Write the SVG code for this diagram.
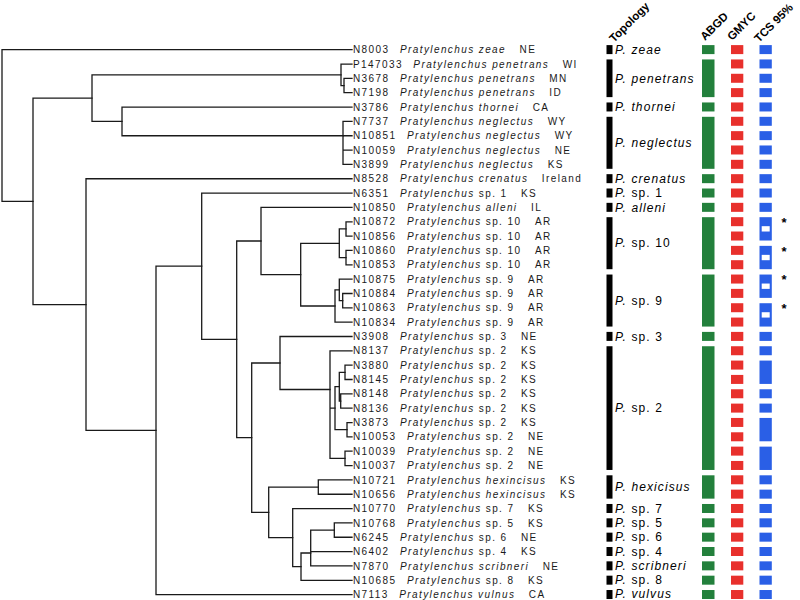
<svg xmlns="http://www.w3.org/2000/svg" width="800" height="600" viewBox="0 0 800 600">
<style>
.br{fill:none;stroke:#1a1a1a;stroke-width:1.3;stroke-linecap:square}
.lb{font-family:"Liberation Sans",Arial,sans-serif;font-size:10px;letter-spacing:1.4px;fill:#1a1a1a}
.it{font-style:italic}
.tp{font-family:"Liberation Sans",Arial,sans-serif;font-size:12px;letter-spacing:1.1px;fill:#000}
.hd{font-family:"Liberation Sans",Arial,sans-serif;font-size:11.5px;font-weight:bold;fill:#000}
.tb{fill:#000}
.g{fill:#23803c}.r{fill:#e8302c}.b{fill:#2a5fe6}.h{fill:#fff}
.ast{font-family:"Liberation Sans",Arial,sans-serif;font-size:13px;font-weight:bold;fill:#000}
</style>
<rect width="800" height="600" fill="#fff"/>
<g id="connectors" class="br">
<path d="M2,49.7V201.35M2,49.7H352M2,201.35H33"/>
<path d="M33,98.1V304.6M33,98.1H92M33,304.6H86"/>
<path d="M92,74.8V121.4M92,74.8H341M92,121.4H122"/>
<path d="M341,64.04V85.55M341,64.04H352M341,85.55H344"/>
<path d="M344,78.38V92.72M344,78.38H352M344,92.72H352"/>
<path d="M122,107.06V135.74M122,107.06H352M122,135.74H343"/>
<path d="M343,121.4V164.42M343,121.4H352M343,135.74H352M343,150.08H352M343,164.42H352"/>
<path d="M86,178.76V430.4M86,178.76H352M86,430.4H156"/>
<path d="M156,266.2V594.62M156,266.2H201.7M156,594.62H352"/>
<path d="M201.7,193.1V339.3M201.7,193.1H352M201.7,339.3H236.7"/>
<path d="M236.7,241V437.7M236.7,241H261M236.7,437.7H251.7"/>
<path d="M261,207.44V274.65M261,207.44H352M261,274.65H300.7"/>
<path d="M300.7,243.3V306M300.7,243.3H339.3M300.7,306H335"/>
<path d="M339.3,228.95V257.63M339.3,228.95H346M339.3,257.63H346"/>
<path d="M346,221.78V236.12M346,221.78H352M346,236.12H352"/>
<path d="M346,250.46V264.8M346,250.46H352M346,264.8H352"/>
<path d="M335,289.9V322.16M335,289.9H339.3M335,322.16H352"/>
<path d="M339.3,279.14V300.65M339.3,279.14H352M339.3,300.65H342.7"/>
<path d="M342.7,293.48V307.82M342.7,293.48H352M342.7,307.82H352"/>
<path d="M251.7,363V512.3M251.7,363H280M251.7,512.3H268.7"/>
<path d="M280,336.5V389.5M280,336.5H352M280,389.5H330"/>
<path d="M330,350.84V458.4M330,350.84H352M330,408.2H335M330,458.4H345"/>
<path d="M335,386.7V429.7M335,386.7H339.3M335,429.7H347"/>
<path d="M339.3,372.35V401.05M339.3,372.35H345M339.3,401.05H340.7"/>
<path d="M345,365.18V379.52M345,365.18H352M345,379.52H352"/>
<path d="M340.7,393.86V408.2M340.7,393.86H352M340.7,408.2H352"/>
<path d="M347,422.54V436.88M347,422.54H352M347,436.88H352"/>
<path d="M345,451.22V465.56M345,451.22H352M345,465.56H352"/>
<path d="M268.7,487.05V537.6M268.7,487.05H318.3M268.7,537.6H292.7"/>
<path d="M318.3,479.9V494.24M318.3,479.9H352M318.3,494.24H352"/>
<path d="M292.7,508.58V566.6M292.7,508.58H352M292.7,566.6H301"/>
<path d="M301,553V580.28M301,553H310.7M301,580.28H352"/>
<path d="M310.7,530.1V565.94M310.7,530.1H334.3M310.7,551.6H352M310.7,565.94H352"/>
<path d="M334.3,522.92V537.26M334.3,522.92H352M334.3,537.26H352"/>
</g>
<g id="taxa" class="lb">
<g id="t0"><text x="353" y="53.3">N8003<tspan class="it" dx="10.5">Pratylenchus zeae</tspan><tspan dx="13.5">NE</tspan></text></g>
<g id="t1"><text x="353" y="67.64">P147033<tspan class="it" dx="10.5">Pratylenchus penetrans</tspan><tspan dx="13.5">WI</tspan></text></g>
<g id="t2"><text x="353" y="81.98">N3678<tspan class="it" dx="10.5">Pratylenchus penetrans</tspan><tspan dx="13.5">MN</tspan></text></g>
<g id="t3"><text x="353" y="96.32">N7198<tspan class="it" dx="10.5">Pratylenchus penetrans</tspan><tspan dx="13.5">ID</tspan></text></g>
<g id="t4"><text x="353" y="110.66">N3786<tspan class="it" dx="10.5">Pratylenchus thornei</tspan><tspan dx="13.5">CA</tspan></text></g>
<g id="t5"><text x="353" y="125">N7737<tspan class="it" dx="10.5">Pratylenchus neglectus</tspan><tspan dx="13.5">WY</tspan></text></g>
<g id="t6"><text x="353" y="139.34">N10851<tspan class="it" dx="10.5">Pratylenchus neglectus</tspan><tspan dx="13.5">WY</tspan></text></g>
<g id="t7"><text x="353" y="153.68">N10059<tspan class="it" dx="10.5">Pratylenchus neglectus</tspan><tspan dx="13.5">NE</tspan></text></g>
<g id="t8"><text x="353" y="168.02">N3899<tspan class="it" dx="10.5">Pratylenchus neglectus</tspan><tspan dx="13.5">KS</tspan></text></g>
<g id="t9"><text x="353" y="182.36">N8528<tspan class="it" dx="10.5">Pratylenchus crenatus</tspan><tspan dx="13.5">Ireland</tspan></text></g>
<g id="t10"><text x="353" y="196.7">N6351<tspan class="it" dx="10.5">Pratylenchus</tspan><tspan dx="4.2">sp. 1</tspan><tspan dx="13.5">KS</tspan></text></g>
<g id="t11"><text x="353" y="211.04">N10850<tspan class="it" dx="10.5">Pratylenchus alleni</tspan><tspan dx="13.5">IL</tspan></text></g>
<g id="t12"><text x="353" y="225.38">N10872<tspan class="it" dx="10.5">Pratylenchus</tspan><tspan dx="4.2">sp. 10</tspan><tspan dx="13.5">AR</tspan></text></g>
<g id="t13"><text x="353" y="239.72">N10856<tspan class="it" dx="10.5">Pratylenchus</tspan><tspan dx="4.2">sp. 10</tspan><tspan dx="13.5">AR</tspan></text></g>
<g id="t14"><text x="353" y="254.06">N10860<tspan class="it" dx="10.5">Pratylenchus</tspan><tspan dx="4.2">sp. 10</tspan><tspan dx="13.5">AR</tspan></text></g>
<g id="t15"><text x="353" y="268.4">N10853<tspan class="it" dx="10.5">Pratylenchus</tspan><tspan dx="4.2">sp. 10</tspan><tspan dx="13.5">AR</tspan></text></g>
<g id="t16"><text x="353" y="282.74">N10875<tspan class="it" dx="10.5">Pratylenchus</tspan><tspan dx="4.2">sp. 9</tspan><tspan dx="13.5">AR</tspan></text></g>
<g id="t17"><text x="353" y="297.08">N10884<tspan class="it" dx="10.5">Pratylenchus</tspan><tspan dx="4.2">sp. 9</tspan><tspan dx="13.5">AR</tspan></text></g>
<g id="t18"><text x="353" y="311.42">N10863<tspan class="it" dx="10.5">Pratylenchus</tspan><tspan dx="4.2">sp. 9</tspan><tspan dx="13.5">AR</tspan></text></g>
<g id="t19"><text x="353" y="325.76">N10834<tspan class="it" dx="10.5">Pratylenchus</tspan><tspan dx="4.2">sp. 9</tspan><tspan dx="13.5">AR</tspan></text></g>
<g id="t20"><text x="353" y="340.1">N3908<tspan class="it" dx="10.5">Pratylenchus</tspan><tspan dx="4.2">sp. 3</tspan><tspan dx="13.5">NE</tspan></text></g>
<g id="t21"><text x="353" y="354.44">N8137<tspan class="it" dx="10.5">Pratylenchus</tspan><tspan dx="4.2">sp. 2</tspan><tspan dx="13.5">KS</tspan></text></g>
<g id="t22"><text x="353" y="368.78">N3880<tspan class="it" dx="10.5">Pratylenchus</tspan><tspan dx="4.2">sp. 2</tspan><tspan dx="13.5">KS</tspan></text></g>
<g id="t23"><text x="353" y="383.12">N8145<tspan class="it" dx="10.5">Pratylenchus</tspan><tspan dx="4.2">sp. 2</tspan><tspan dx="13.5">KS</tspan></text></g>
<g id="t24"><text x="353" y="397.46">N8148<tspan class="it" dx="10.5">Pratylenchus</tspan><tspan dx="4.2">sp. 2</tspan><tspan dx="13.5">KS</tspan></text></g>
<g id="t25"><text x="353" y="411.8">N8136<tspan class="it" dx="10.5">Pratylenchus</tspan><tspan dx="4.2">sp. 2</tspan><tspan dx="13.5">KS</tspan></text></g>
<g id="t26"><text x="353" y="426.14">N3873<tspan class="it" dx="10.5">Pratylenchus</tspan><tspan dx="4.2">sp. 2</tspan><tspan dx="13.5">KS</tspan></text></g>
<g id="t27"><text x="353" y="440.48">N10053<tspan class="it" dx="10.5">Pratylenchus</tspan><tspan dx="4.2">sp. 2</tspan><tspan dx="13.5">NE</tspan></text></g>
<g id="t28"><text x="353" y="454.82">N10039<tspan class="it" dx="10.5">Pratylenchus</tspan><tspan dx="4.2">sp. 2</tspan><tspan dx="13.5">NE</tspan></text></g>
<g id="t29"><text x="353" y="469.16">N10037<tspan class="it" dx="10.5">Pratylenchus</tspan><tspan dx="4.2">sp. 2</tspan><tspan dx="13.5">NE</tspan></text></g>
<g id="t30"><text x="353" y="483.5">N10721<tspan class="it" dx="10.5">Pratylenchus hexincisus</tspan><tspan dx="13.5">KS</tspan></text></g>
<g id="t31"><text x="353" y="497.84">N10656<tspan class="it" dx="10.5">Pratylenchus hexincisus</tspan><tspan dx="13.5">KS</tspan></text></g>
<g id="t32"><text x="353" y="512.18">N10770<tspan class="it" dx="10.5">Pratylenchus</tspan><tspan dx="4.2">sp. 7</tspan><tspan dx="13.5">KS</tspan></text></g>
<g id="t33"><text x="353" y="526.52">N10768<tspan class="it" dx="10.5">Pratylenchus</tspan><tspan dx="4.2">sp. 5</tspan><tspan dx="13.5">KS</tspan></text></g>
<g id="t34"><text x="353" y="540.86">N6245<tspan class="it" dx="10.5">Pratylenchus</tspan><tspan dx="4.2">sp. 6</tspan><tspan dx="13.5">NE</tspan></text></g>
<g id="t35"><text x="353" y="555.2">N6402<tspan class="it" dx="10.5">Pratylenchus</tspan><tspan dx="4.2">sp. 4</tspan><tspan dx="13.5">KS</tspan></text></g>
<g id="t36"><text x="353" y="569.54">N7870<tspan class="it" dx="10.5">Pratylenchus scribneri</tspan><tspan dx="13.5">NE</tspan></text></g>
<g id="t37"><text x="353" y="583.88">N10685<tspan class="it" dx="10.5">Pratylenchus</tspan><tspan dx="4.2">sp. 8</tspan><tspan dx="13.5">KS</tspan></text></g>
<g id="t38"><text x="353" y="597.8">N7113<tspan class="it" dx="10.5">Pratylenchus vulnus</tspan><tspan dx="13.5">CA</tspan></text></g>
</g>
<g id="headers" class="hd">
<text x="614" y="43" transform="rotate(-45 614 43)">Topology</text>
<text x="705" y="41" transform="rotate(-45 705 41)">ABGD</text>
<text x="732" y="41" transform="rotate(-45 732 41)">GMYC</text>
<text x="759" y="43" transform="rotate(-45 759 43)">TCS 95%</text>
</g>
<g id="topology">
<g class="tb">
<rect x="606.5" y="45.1" width="6" height="9"/>
<rect x="606.5" y="59.44" width="6" height="37.68"/>
<rect x="606.5" y="102.46" width="6" height="9"/>
<rect x="606.5" y="116.8" width="6" height="52.02"/>
<rect x="606.5" y="174.16" width="6" height="9"/>
<rect x="606.5" y="188.5" width="6" height="9"/>
<rect x="606.5" y="202.84" width="6" height="9"/>
<rect x="606.5" y="217.18" width="6" height="52.02"/>
<rect x="606.5" y="274.54" width="6" height="52.02"/>
<rect x="606.5" y="331.9" width="6" height="9"/>
<rect x="606.5" y="346.24" width="6" height="123.72"/>
<rect x="606.5" y="475.3" width="6" height="23.34"/>
<rect x="606.5" y="503.98" width="6" height="9"/>
<rect x="606.5" y="518.32" width="6" height="9"/>
<rect x="606.5" y="532.66" width="6" height="9"/>
<rect x="606.5" y="547" width="6" height="9"/>
<rect x="606.5" y="561.34" width="6" height="9"/>
<rect x="606.5" y="575.68" width="6" height="9"/>
<rect x="606.5" y="590.02" width="6" height="9"/>
</g>
<g class="tp">
<text x="615" y="53.8" class="it">P. zeae</text>
<text x="615" y="82.5" class="it">P. penetrans</text>
<text x="615" y="111.2" class="it">P. thornei</text>
<text x="615" y="147" class="it">P. neglectus</text>
<text x="615" y="182.9" class="it">P. crenatus</text>
<text x="615" y="197.2"><tspan class="it">P.</tspan> sp. 1</text>
<text x="615" y="211.5" class="it">P. alleni</text>
<text x="615" y="247.4"><tspan class="it">P.</tspan> sp. 10</text>
<text x="615" y="304.7"><tspan class="it">P.</tspan> sp. 9</text>
<text x="615" y="340.6"><tspan class="it">P.</tspan> sp. 3</text>
<text x="615" y="412.3"><tspan class="it">P.</tspan> sp. 2</text>
<text x="615" y="491.2" class="it">P. hexicisus</text>
<text x="615" y="512.7"><tspan class="it">P.</tspan> sp. 7</text>
<text x="615" y="527"><tspan class="it">P.</tspan> sp. 5</text>
<text x="615" y="541.4"><tspan class="it">P.</tspan> sp. 6</text>
<text x="615" y="555.7"><tspan class="it">P.</tspan> sp. 4</text>
<text x="615" y="570" class="it">P. scribneri</text>
<text x="615" y="584.4"><tspan class="it">P.</tspan> sp. 8</text>
<text x="615" y="597.6" class="it">P. vulvus</text>
</g>
</g>
<g id="abgd" class="g">
<rect x="702" y="45.1" width="12.5" height="9"/>
<rect x="702" y="59.44" width="12.5" height="37.68"/>
<rect x="702" y="102.46" width="12.5" height="9"/>
<rect x="702" y="116.8" width="12.5" height="52.02"/>
<rect x="702" y="174.16" width="12.5" height="9"/>
<rect x="702" y="188.5" width="12.5" height="9"/>
<rect x="702" y="202.84" width="12.5" height="9"/>
<rect x="702" y="217.18" width="12.5" height="52.02"/>
<rect x="702" y="274.54" width="12.5" height="52.02"/>
<rect x="702" y="331.9" width="12.5" height="9"/>
<rect x="702" y="346.24" width="12.5" height="123.72"/>
<rect x="702" y="475.3" width="12.5" height="23.34"/>
<rect x="702" y="503.98" width="12.5" height="9"/>
<rect x="702" y="518.32" width="12.5" height="9"/>
<rect x="702" y="532.66" width="12.5" height="9"/>
<rect x="702" y="547" width="12.5" height="9"/>
<rect x="702" y="561.34" width="12.5" height="9"/>
<rect x="702" y="575.68" width="12.5" height="9"/>
<rect x="702" y="590.02" width="12.5" height="9"/>
</g>
<g id="gmyc" class="r">
<rect x="731" y="45.1" width="12.3" height="9"/>
<rect x="731" y="59.44" width="12.3" height="9"/>
<rect x="731" y="73.78" width="12.3" height="9"/>
<rect x="731" y="88.12" width="12.3" height="9"/>
<rect x="731" y="102.46" width="12.3" height="9"/>
<rect x="731" y="116.8" width="12.3" height="9"/>
<rect x="731" y="131.14" width="12.3" height="9"/>
<rect x="731" y="145.48" width="12.3" height="9"/>
<rect x="731" y="159.82" width="12.3" height="9"/>
<rect x="731" y="174.16" width="12.3" height="9"/>
<rect x="731" y="188.5" width="12.3" height="9"/>
<rect x="731" y="202.84" width="12.3" height="9"/>
<rect x="731" y="217.18" width="12.3" height="9"/>
<rect x="731" y="231.52" width="12.3" height="9"/>
<rect x="731" y="245.86" width="12.3" height="9"/>
<rect x="731" y="260.2" width="12.3" height="9"/>
<rect x="731" y="274.54" width="12.3" height="9"/>
<rect x="731" y="288.88" width="12.3" height="9"/>
<rect x="731" y="303.22" width="12.3" height="9"/>
<rect x="731" y="317.56" width="12.3" height="9"/>
<rect x="731" y="331.9" width="12.3" height="9"/>
<rect x="731" y="346.24" width="12.3" height="9"/>
<rect x="731" y="360.58" width="12.3" height="9"/>
<rect x="731" y="374.92" width="12.3" height="9"/>
<rect x="731" y="389.26" width="12.3" height="9"/>
<rect x="731" y="403.6" width="12.3" height="9"/>
<rect x="731" y="417.94" width="12.3" height="9"/>
<rect x="731" y="432.28" width="12.3" height="9"/>
<rect x="731" y="446.62" width="12.3" height="9"/>
<rect x="731" y="460.96" width="12.3" height="9"/>
<rect x="731" y="475.3" width="12.3" height="9"/>
<rect x="731" y="489.64" width="12.3" height="9"/>
<rect x="731" y="503.98" width="12.3" height="9"/>
<rect x="731" y="518.32" width="12.3" height="9"/>
<rect x="731" y="532.66" width="12.3" height="9"/>
<rect x="731" y="547" width="12.3" height="9"/>
<rect x="731" y="561.34" width="12.3" height="9"/>
<rect x="731" y="575.68" width="12.3" height="9"/>
<rect x="731" y="590.02" width="12.3" height="9"/>
</g>
<g id="tcs">
<g class="b">
<rect x="759.5" y="45.1" width="12.3" height="9"/>
<rect x="759.5" y="59.44" width="12.3" height="9"/>
<rect x="759.5" y="73.78" width="12.3" height="9"/>
<rect x="759.5" y="88.12" width="12.3" height="9"/>
<rect x="759.5" y="102.46" width="12.3" height="9"/>
<rect x="759.5" y="116.8" width="12.3" height="9"/>
<rect x="759.5" y="131.14" width="12.3" height="9"/>
<rect x="759.5" y="145.48" width="12.3" height="9"/>
<rect x="759.5" y="159.82" width="12.3" height="9"/>
<rect x="759.5" y="174.16" width="12.3" height="9"/>
<rect x="759.5" y="188.5" width="12.3" height="9"/>
<rect x="759.5" y="202.84" width="12.3" height="9"/>
<rect x="759.5" y="217.18" width="12.3" height="23.34"/>
<rect x="759.5" y="245.86" width="12.3" height="23.34"/>
<rect x="759.5" y="274.54" width="12.3" height="23.34"/>
<rect x="759.5" y="303.22" width="12.3" height="23.34"/>
<rect x="759.5" y="331.9" width="12.3" height="9"/>
<rect x="759.5" y="346.24" width="12.3" height="9"/>
<rect x="759.5" y="360.58" width="12.3" height="23.34"/>
<rect x="759.5" y="389.26" width="12.3" height="9"/>
<rect x="759.5" y="403.6" width="12.3" height="9"/>
<rect x="759.5" y="417.94" width="12.3" height="23.34"/>
<rect x="759.5" y="446.62" width="12.3" height="23.34"/>
<rect x="759.5" y="475.3" width="12.3" height="9"/>
<rect x="759.5" y="489.64" width="12.3" height="9"/>
<rect x="759.5" y="503.98" width="12.3" height="9"/>
<rect x="759.5" y="518.32" width="12.3" height="9"/>
<rect x="759.5" y="532.66" width="12.3" height="9"/>
<rect x="759.5" y="547" width="12.3" height="9"/>
<rect x="759.5" y="561.34" width="12.3" height="9"/>
<rect x="759.5" y="575.68" width="12.3" height="9"/>
<rect x="759.5" y="590.02" width="12.3" height="9"/>
</g>
<g class="h">
<rect x="761.7" y="226.18" width="8" height="5.34"/>
<rect x="761.7" y="254.86" width="8" height="5.34"/>
<rect x="761.7" y="283.54" width="8" height="5.34"/>
<rect x="761.7" y="312.22" width="8" height="5.34"/>
</g>
<g class="ast">
<text x="781.5" y="227.1">*</text>
<text x="781.5" y="255.8">*</text>
<text x="781.5" y="284.4">*</text>
<text x="781.5" y="313.1">*</text>
</g>
</g>
</svg>
